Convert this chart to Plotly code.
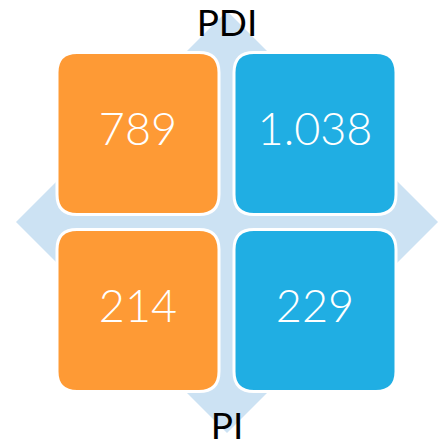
import plotly.graph_objects as go

# Data
values = ["789", "1.038", "214", "229"]
rows = [0, 0, 1, 1]
cols = [0, 1, 0, 1]
cell_colors = ["#FE9A35", "#20AEE3", "#FE9A35", "#20AEE3"]
top_label = "PDI"
bottom_label = "PI"

# Layout geometry (pixels of the 439x444 canvas)
W, H = 439, 444
col_centers = [138, 315]
row_centers = [133.5, 310.5]
half = 81
rad = 20
cx, cy, dhalf = 227, 222, 211


def rounded_rect(x0, y0, x1, y1, r):
    return (f"M {x0+r},{y0} L {x1-r},{y0} Q {x1},{y0} {x1},{y0+r} "
            f"L {x1},{y1-r} Q {x1},{y1} {x1-r},{y1} L {x0+r},{y1} "
            f"Q {x0},{y1} {x0},{y1-r} L {x0},{y0+r} Q {x0},{y0} {x0+r},{y0} Z")


shapes = []
# background diamond
shapes.append(dict(type="path", xref="x", yref="y",
                   path=f"M {cx},{cy-dhalf} L {cx+dhalf},{cy} L {cx},{cy+dhalf} L {cx-dhalf},{cy} Z",
                   fillcolor="#CCE2F3", line=dict(width=0), layer="below"))
for r, c, col in zip(rows, cols, cell_colors):
    x = col_centers[c]
    y = row_centers[r]
    shapes.append(dict(type="path", xref="x", yref="y",
                       path=rounded_rect(x - half, y - half, x + half, y + half, rad),
                       fillcolor=col, line=dict(color="white", width=3), layer="below"))

fig = go.Figure()
fig.add_trace(go.Scatter(
    x=[col_centers[c] for c in cols],
    y=[row_centers[r] for r in rows],
    mode="text", text=values, cliponaxis=False,
    textfont=dict(family="Lato", size=45, color="white", weight=300),
    hoverinfo="skip", showlegend=False))
fig.add_trace(go.Scatter(
    x=[cx, cx], y=[27, 430], mode="text", text=[top_label, bottom_label],
    cliponaxis=False,
    textfont=dict(family="Lato", size=37, color="black", weight=400),
    hoverinfo="skip", showlegend=False))

fig.update_layout(
    width=W, height=H, margin=dict(l=0, r=0, t=0, b=0),
    paper_bgcolor="white", plot_bgcolor="white", shapes=shapes,
    xaxis=dict(range=[0, W], visible=False, fixedrange=True),
    yaxis=dict(range=[H, 0], visible=False, fixedrange=True),
)
fig.write_html("out.html", config={"displayModeBar": False},
               post_script="document.body.style.margin='0';document.body.style.overflow='hidden';")
